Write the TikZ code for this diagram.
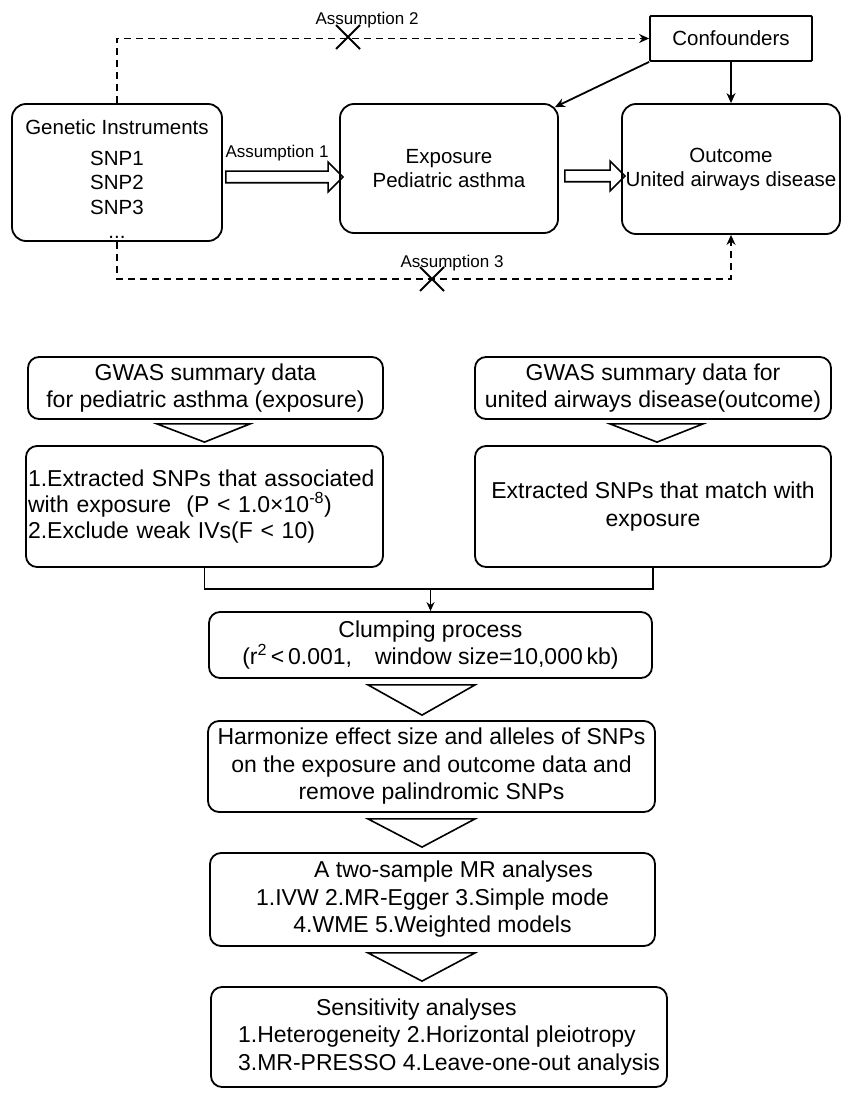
\documentclass[tikz,border=0pt]{standalone}
\usepackage{fontspec}
\setmainfont{Liberation Sans}
\usetikzlibrary{arrows.meta,calc,shapes.arrows,shapes.misc}

\begin{document}
\begin{tikzpicture}[
  x=1pt, y=-1pt,
  line width=1.8pt,
  topfont/.style={font=\fontsize{20.5pt}{24pt}\selectfont},
  lowfont/.style={font=\fontsize{23pt}{27.5pt}\selectfont},
  box/.style={draw, rounded corners=14pt, align=center, inner sep=2pt, topfont},
  flow/.style={draw, rounded corners=11pt, align=center, inner sep=2pt, lowfont},
  plain/.style={draw, rounded corners=1pt, align=center, inner sep=2pt, topfont},
  fat/.style={draw, single arrow, single arrow head extend=9pt, inner xsep=0pt, inner ysep=5pt, line width=1.6pt},
  dsh/.style={dash pattern=on 7pt off 5pt, line width=1.6pt},
  a/.style={-{Stealth[length=10pt,width=9pt]}},
  xmark/.style={draw, cross out, minimum size=22pt, inner sep=0pt, line width=2pt},
  tag/.style={font=\fontsize{17pt}{20pt}\selectfont, inner sep=0pt},
  tri/.style={line width=1.6pt}]
\path[use as bounding box, fill=white] (0,0) rectangle (851,1099);

% the three assumptions
\node[box, minimum width=210pt, minimum height=137pt] (gi) at (117,172.5)
  {\rule{0pt}{27pt}Genetic Instruments\\[8pt]SNP1\\SNP2\\SNP3\\...};
\node[box, minimum width=218pt, minimum height=129pt] (exp) at (449,168.5)
  {Exposure\\Pediatric asthma};
\node[box, minimum width=218pt, minimum height=130pt] (out) at (731,169)
  {Outcome\\United airways disease};
\node[plain, minimum width=162pt, minimum height=45pt] (conf) at (731,38.5) {Confounders};

\node[fat, minimum height=117pt] (f1) at (281.5,177) {};
\node[fat, minimum height=60pt] (f2) at (592,176) {};
\node[tag] (t1) at (277,153) {Assumption 1};

\draw[dsh, a] (gi.north) |- (conf.west);
\node[xmark] (x2) at (348,37) {};
\node[tag] (t2) at (367,20) {Assumption 2};

\coordinate (a3) at (out.south |- 0,279);
\draw[dsh, a] (gi.south) |- (a3) -- (out.south);
\node[xmark] (x3) at (432,279) {};
\node[tag] (t3) at (452,263) {Assumption 3};

\draw[a] (conf.south west) -- ([shift={(-4pt,-4pt)}]exp.north east);
\draw[a] (conf.south) -- (out.north);

% analysis workflow
\node[flow, minimum width=355pt, minimum height=62pt] (gexp) at (205.5,388)
  {GWAS summary data\\for pediatric asthma (exposure)};
\node[flow, align=left, text width=353pt, minimum height=121pt,
  font=\fontsize{23pt}{26pt}\selectfont] (ext1) at (204.5,506.5)
  {1.Extracted SNPs that associated\\with exposure\ \ (P < 1.0×10\textsuperscript{-8})\\2.Exclude weak IVs(F < 10)};
\node[flow, minimum width=356pt, minimum height=62pt] (gout) at (653,388)
  {GWAS summary data for\\united airways disease(outcome)};
\node[flow, minimum width=356pt, minimum height=121pt] (ext2) at (653,506.5)
  {Extracted SNPs that match with\\exposure};
\node[flow, minimum width=443pt, minimum height=66pt] (clump) at (430.5,645)
  {Clumping process\\(r\textsuperscript{2}\,<\,0.001,\quad window size=10,000\,kb)};
\node[flow, minimum width=447pt, minimum height=91pt] (harm) at (431.5,766.5)
  {Harmonize effect size and alleles of SNPs\\on the exposure and outcome data and\\remove palindromic SNPs};
\node[flow, minimum width=445pt, minimum height=93pt] (mr) at (432.5,899.5)
  {\hspace*{42pt}A two-sample MR analyses\\1.IVW 2.MR-Egger 3.Simple mode\\4.WME 5.Weighted models};
\node[flow, align=left, minimum width=456pt, minimum height=100pt] (sens) at (439,1037)
  {\hspace*{98pt}Sensitivity analyses\\\hspace*{20pt}1.Heterogeneity 2.Horizontal pleiotropy\\\hspace*{20pt}3.MR-PRESSO 4.Leave-one-out analysis};

\draw[tri] ($(gexp.south)+(-48.5,4)$) -- ($(gexp.south)+(44.5,4)$) -- ($(ext1.north)+(0,-3)$) -- cycle;
\draw[tri] ($(gout.south)+(-43,4)$) -- ($(gout.south)+(50,4)$) -- ($(ext2.north)+(4,-3)$) -- cycle;

\coordinate (mrg) at (430.5,589);
\draw (ext1.south) |- (mrg) -| (ext2.south);
\draw[-{Stealth[length=9pt,width=8pt]}] (mrg) -- (clump.north);

\coordinate (tl) at (368,0);
\coordinate (tr) at (475,0);
\coordinate (tc) at (422,0);
\foreach \u/\v in {clump/harm, harm/mr, mr/sens}
  \draw[tri] ($(\u.south -| tl)+(0,6)$) -- ($(\u.south -| tr)+(0,6)$) -- ($(\v.north -| tc)+(0,-5)$) -- cycle;
\end{tikzpicture}
\end{document}
